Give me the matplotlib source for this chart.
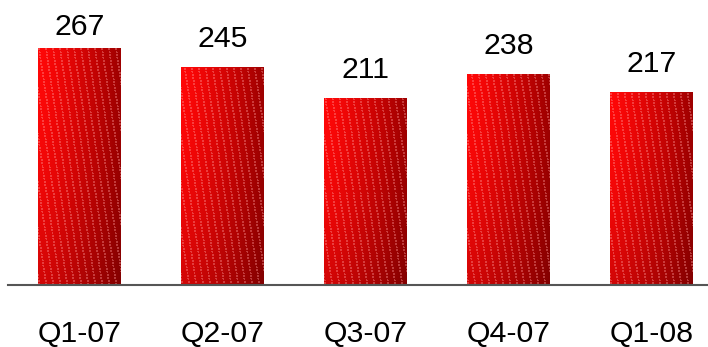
import numpy as np
import matplotlib
matplotlib.use("Agg")
import matplotlib.pyplot as plt

categories = ["Q1-07", "Q2-07", "Q3-07", "Q4-07", "Q1-08"]
values = [267, 245, 211, 238, 217]

plt.rcParams['font.family'] = ['Liberation Sans', 'DejaVu Sans']

W, H = 708, 347
fig = plt.figure(figsize=(W/100, H/100), dpi=100)
ax = fig.add_axes([8/W, 62/H, 700/W, 285/H])

x = np.arange(len(categories))
width = 83/143
ax.set_xlim(-0.5, 700/143 - 0.5)
ymax = 285/0.888
ax.set_ylim(0, ymax)

bars = ax.bar(x, values, width=width, color='none', edgecolor='none', zorder=2)

def texture(wpx, hpx):
    jj, ii = np.meshgrid(np.arange(wpx), np.arange(hpx))
    fx = jj / max(wpx - 1, 1)
    fy = ii / max(hpx - 1, 1)
    left = np.array([1.0, 0.03, 0.03])
    right = np.array([0.62, 0.0, 0.0])
    t = fx[..., None] ** 1.3
    img = left * (1 - t) + right * t
    img = img * (1 - 0.18 * (fy[..., None] ** 2))
    phase = (jj + (hpx - ii) * 0.15) % 7
    stripe = (phase < 1.8) & ((ii % 3) != 0)
    light = np.array([1.0, 0.6, 0.6])
    a = 0.38
    img[stripe] = img[stripe] * (1 - a) + light * a
    return np.clip(img, 0, 1)

fig.canvas.draw()
for b in bars:
    x0, w, h = b.get_x(), b.get_width(), b.get_height()
    p0 = ax.transData.transform((x0, 0))
    p1 = ax.transData.transform((x0 + w, h))
    wpx = max(int(round(p1[0] - p0[0])), 2)
    hpx = max(int(round(p1[1] - p0[1])), 2)
    im = ax.imshow(texture(wpx, hpx), extent=[x0, x0 + w, 0, h], origin='upper',
                   aspect='auto', zorder=2, interpolation='nearest')
    im.set_clip_path(b)

px = 1 / 0.888  # data units per pixel
for xi, v in zip(x, values):
    base = min(v + 20 * px, ymax - 35 * px)
    ax.text(xi, base, str(v), ha='center', va='baseline', fontsize=21.8, color='black')

for xi, c in zip(x, categories):
    ax.text(xi, -57 * px, c, ha='center', va='baseline', fontsize=21.8, color='black',
            clip_on=False)

for s in ['top', 'left', 'right']:
    ax.spines[s].set_visible(False)
ax.spines['bottom'].set_color('#555555')
ax.spines['bottom'].set_linewidth(1.5)
ax.set_yticks([])
ax.set_xticks([])

fig.savefig("out.png", dpi=100)
